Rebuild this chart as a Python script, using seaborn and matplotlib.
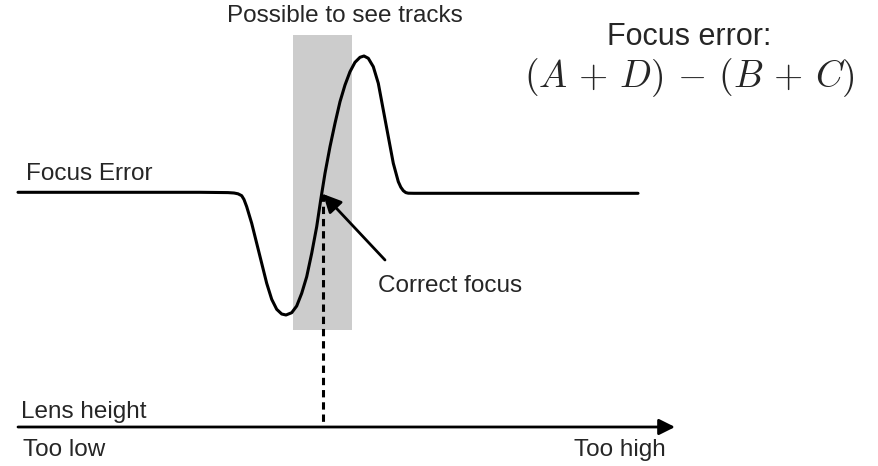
import numpy as np
import pandas as pd
import matplotlib
matplotlib.use("Agg")
import matplotlib.pyplot as plt
import seaborn as sns

# focus error signal (pixel coords, y grows downward)
curve_x = [18, 200, 228, 234, 238, 241.7, 244, 246.7, 251.7, 256.7, 261.7, 266.7, 271.7,
           276.7, 281.7, 286, 291.7, 296.7, 301.7, 306.7, 311.7, 316.7, 320.7, 325, 330,
           335, 340, 345, 350, 355, 360, 364, 368.3, 373.3, 378.3, 383.3, 388.3,
           393.3, 398.3, 400.8, 403.3, 405.8, 408.3, 414, 638]
curve_y = [192.3, 192.3, 192.6, 193.0, 193.8, 195.7, 199.5, 206.7, 223.3, 243.3, 263.3,
           283.3, 299.3, 309.3, 314, 315, 312.7, 306, 293.3, 276.7, 253.3, 226.7, 200,
           173.3, 146.7, 123.3, 101.7, 85, 71.7, 62.3, 57.3, 56, 58.3, 66.7, 83.3, 110,
           136.7, 163.3, 181.7, 187.2, 190.7, 192.6, 193.2, 193.3, 193.3]

# band where tracks are visible
window_x = [293, 352]
window_y = [35, 330]

# correct focus point and lens height axis
focus_x = 323
focus_y = 194
axis_x = [18, 675]
axis_y = 427
pointer_tail = (385, 260)

labels = {
    "window": "Possible to see tracks",
    "signal": "Focus Error",
    "focus": "Correct focus",
    "axis": "Lens height",
    "low": "Too low",
    "high": "Too high",
    "formula_title": "Focus error:",
    "formula": r"$(A\,+\,D)\,-\,(B\,+\,C)$",
}

sns.set_theme(style="white")
plt.rcParams["font.family"] = ["Liberation Sans", "DejaVu Sans"]
plt.rcParams["mathtext.fontset"] = "cm"

fig = plt.figure(figsize=(8.79, 4.66), dpi=100)
ax = fig.add_axes([0, 0, 1, 1])

# grey window
ax.axvspan(window_x[0], window_x[1], ymin=1 - window_y[1] / 466, ymax=1 - window_y[0] / 466,
           color="#cccccc", lw=0, zorder=1)

df = pd.DataFrame({"x": curve_x, "y": curve_y})
sns.lineplot(data=df, x="x", y="y", ax=ax, color="black", lw=2.2, sort=False,
             estimator=None, zorder=3)
ax.lines[-1].set_solid_joinstyle("round")
ax.set_xlim(0, 879)
ax.set_ylim(466, 0)
ax.axis("off")

# dashed drop line to the axis
ax.plot([focus_x, focus_x], [focus_y, axis_y], color="black", lw=2.2,
        linestyle=(0, (2.4, 1.6)), zorder=3)

# lens height axis
ax.annotate("", xy=(axis_x[1], axis_y), xytext=(axis_x[0], axis_y),
            arrowprops=dict(arrowstyle="-|>,head_length=0.48,head_width=0.24",
                            color="black", lw=2.0, mutation_scale=20,
                            shrinkA=0, shrinkB=0), zorder=4)

# pointer to the correct focus
ax.annotate("", xy=(focus_x, focus_y), xytext=pointer_tail,
            arrowprops=dict(arrowstyle="-|>,head_length=0.55,head_width=0.27",
                            color="black", lw=2.0, mutation_scale=20,
                            shrinkA=0, shrinkB=0), zorder=4)

fs = 17.5
ax.text(345, 22, labels["window"], fontsize=fs, ha="center", va="baseline")
ax.text(26, 180, labels["signal"], fontsize=fs, ha="left", va="baseline")
ax.text(378, 292, labels["focus"], fontsize=fs, ha="left", va="baseline")
ax.text(21, 418, labels["axis"], fontsize=fs, ha="left", va="baseline")
ax.text(23, 456, labels["low"], fontsize=fs, ha="left", va="baseline")
ax.text(574, 456, labels["high"], fontsize=fs, ha="left", va="baseline")
ax.text(689, 45, labels["formula_title"], fontsize=22, ha="center", va="baseline")
ax.text(689, 87, labels["formula"], fontsize=27, ha="center", va="baseline")

fig.savefig("out.png", dpi=100)
